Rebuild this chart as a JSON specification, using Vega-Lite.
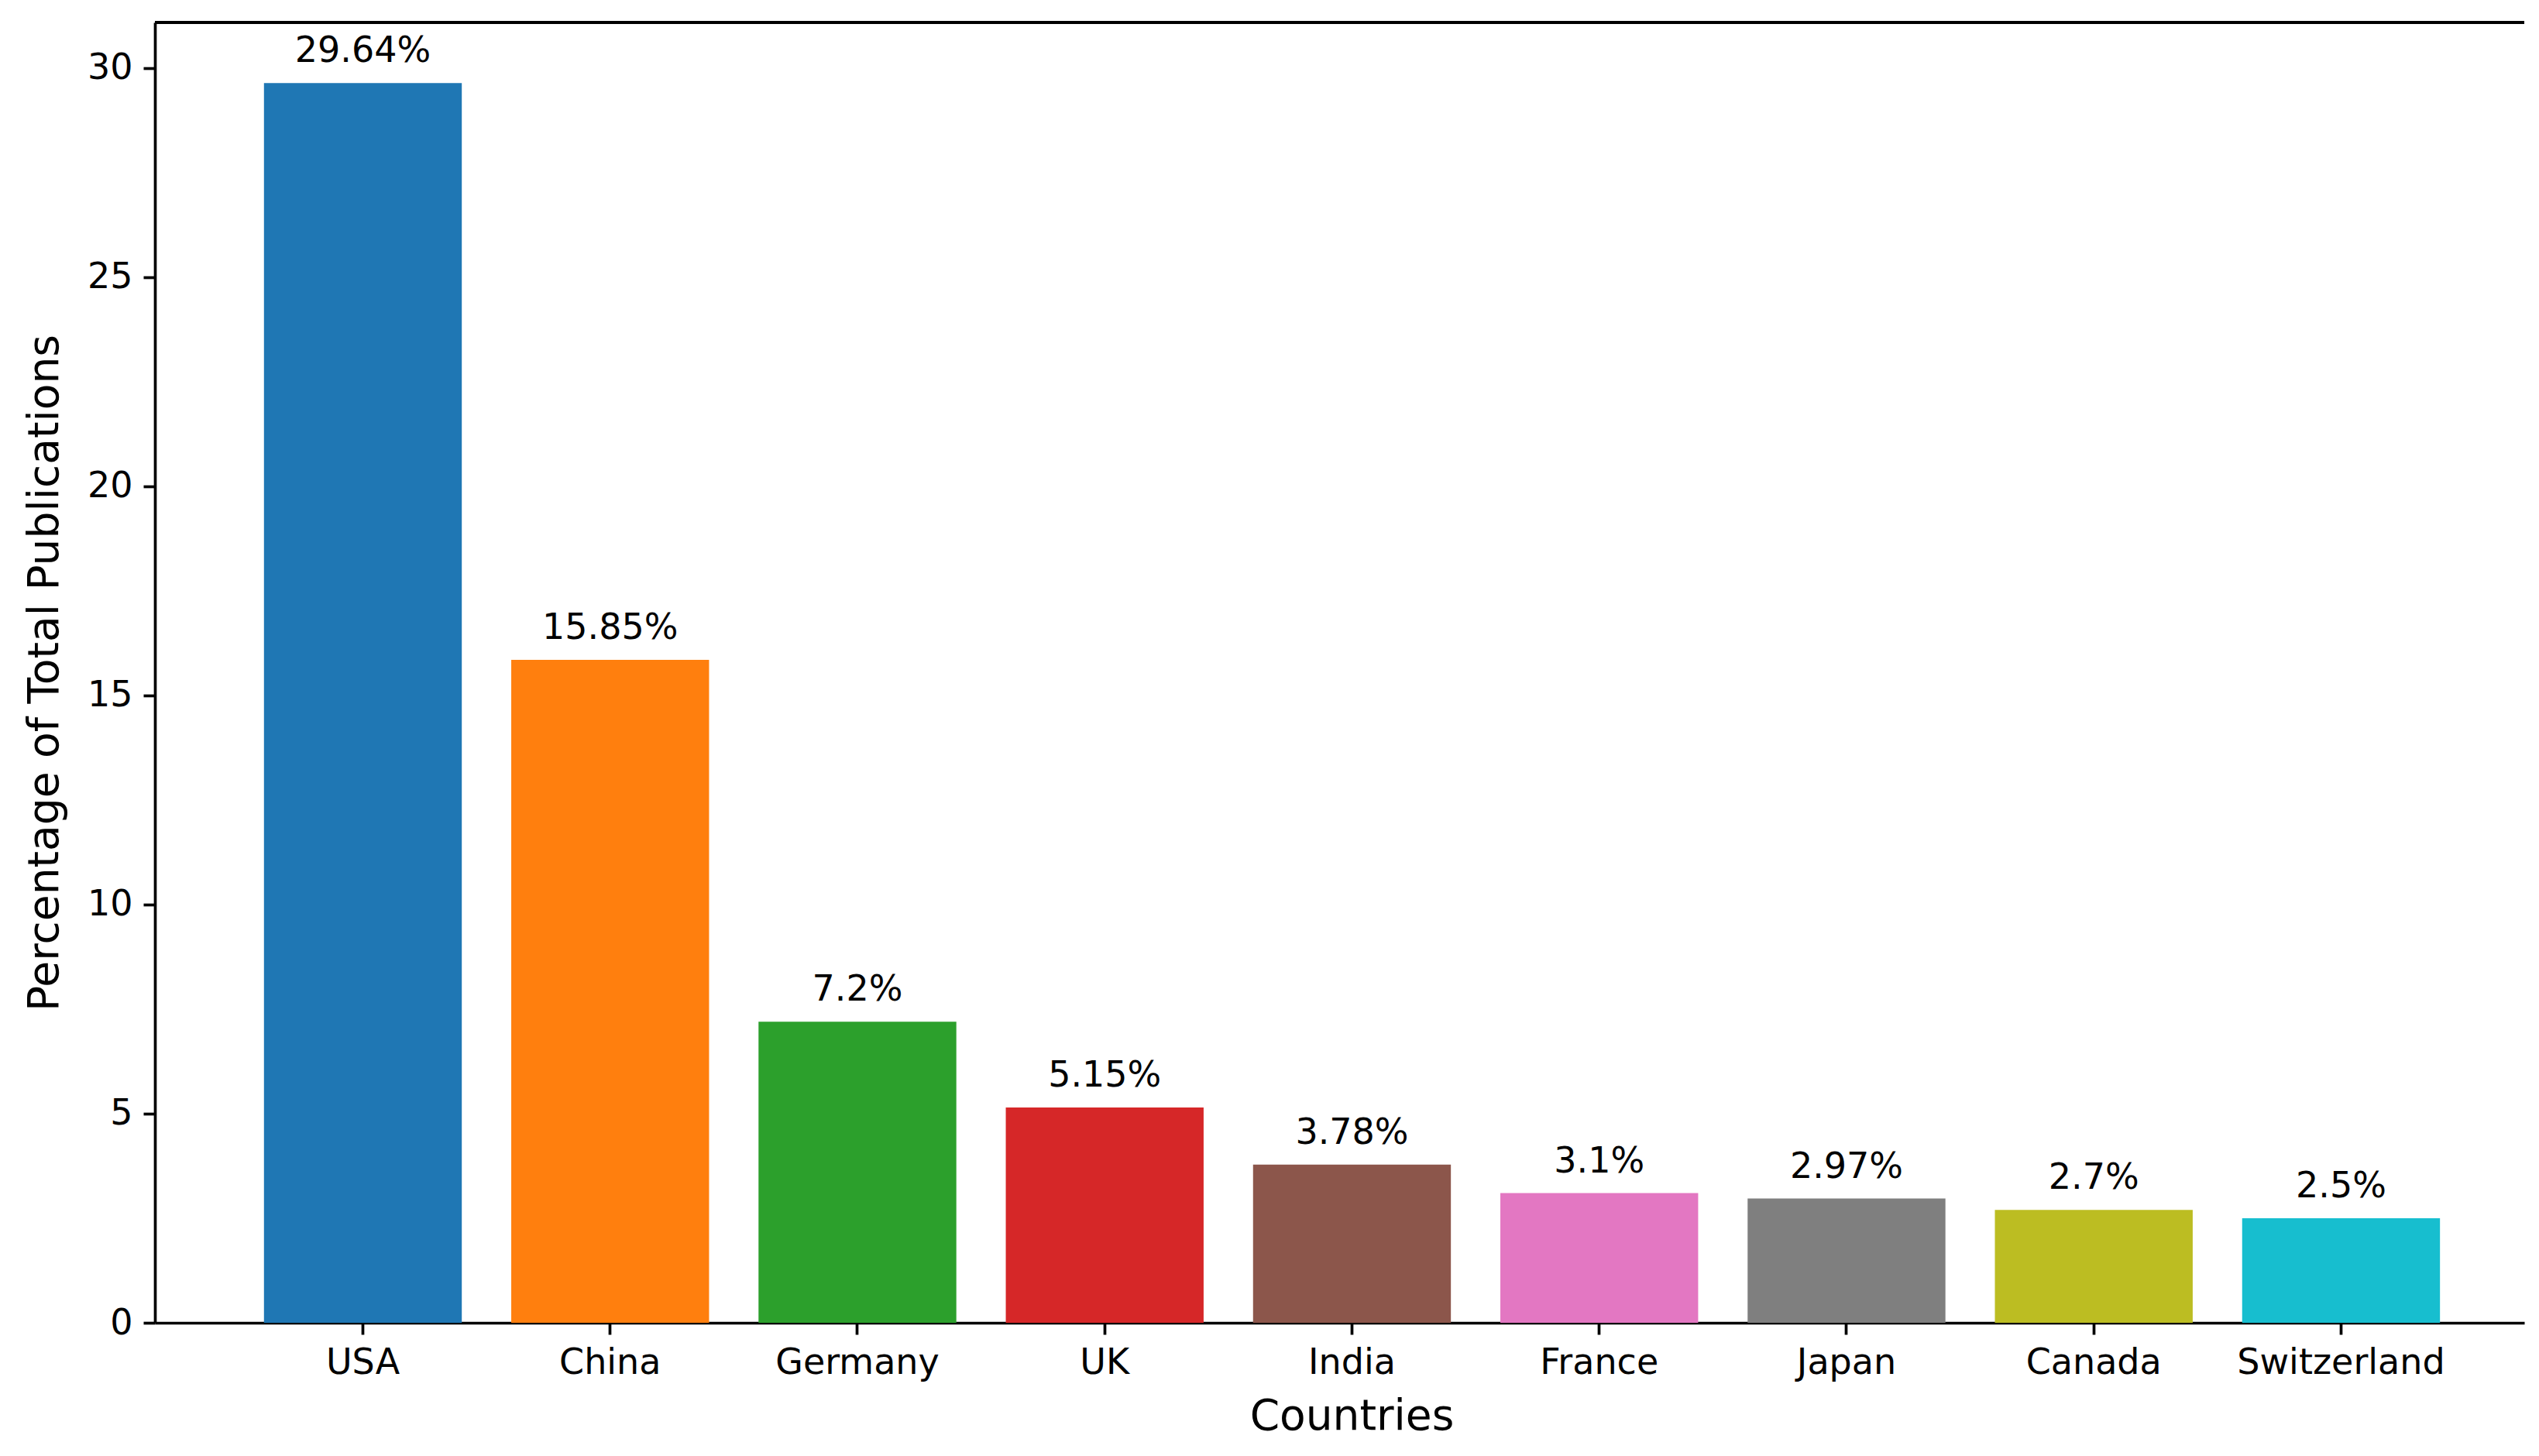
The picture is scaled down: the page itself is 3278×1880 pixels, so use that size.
{
  "$schema": "https://vega.github.io/schema/vega-lite/v6.json",
  "width": 3059,
  "height": 1679,
  "autosize": {"type": "none"},
  "padding": {"left": 200, "top": 29, "right": 19, "bottom": 172},
  "background": "white",
  "config": {
    "font": "DejaVu Sans",
    "view": {"stroke": null},
    "axis": {
      "grid": false,
      "domainColor": "black",
      "domainWidth": 3.7,
      "tickColor": "black",
      "tickWidth": 3.7,
      "tickSize": 15,
      "labelPadding": 14,
      "labelLimit": 0,
      "labelFont": "DejaVu Sans",
      "labelFontSize": 46,
      "labelColor": "black",
      "titleFont": "DejaVu Sans",
      "titleFontSize": 55,
      "titleFontWeight": "normal",
      "titleColor": "black"
    }
  },
  "data": {
    "values": [
      {"country": "USA", "pct": 29.64, "label": "29.64%"},
      {"country": "China", "pct": 15.85, "label": "15.85%"},
      {"country": "Germany", "pct": 7.2, "label": "7.2%"},
      {"country": "UK", "pct": 5.15, "label": "5.15%"},
      {"country": "India", "pct": 3.78, "label": "3.78%"},
      {"country": "France", "pct": 3.1, "label": "3.1%"},
      {"country": "Japan", "pct": 2.97, "label": "2.97%"},
      {"country": "Canada", "pct": 2.7, "label": "2.7%"},
      {"country": "Switzerland", "pct": 2.5, "label": "2.5%"}
    ]
  },
  "layer": [
    {
      "mark": {"type": "bar"},
      "encoding": {
        "x": {
          "field": "country",
          "type": "nominal",
          "sort": null,
          "scale": {"paddingInner": 0.2, "paddingOuter": 0.391, "align": 0.564},
          "axis": {"title": "Countries", "labelAngle": 0, "titlePadding": 20, "titleX": 1545, "titleAlign": "center"}
        },
        "y": {
          "field": "pct",
          "type": "quantitative",
          "scale": {"domain": [0, 31.09], "nice": false, "zero": true},
          "axis": {"title": "Percentage of Total Publications", "values": [0, 5, 10, 15, 20, 25, 30], "titlePadding": 26}
        },
        "color": {
          "field": "country",
          "type": "nominal",
          "legend": null,
          "scale": {
            "domain": ["USA", "China", "Germany", "UK", "India", "France", "Japan", "Canada", "Switzerland"],
            "range": ["#1f77b4", "#ff7f0e", "#2ca02c", "#d62728", "#8c564b", "#e377c2", "#7f7f7f", "#bcbd22", "#17becf"]
          }
        }
      }
    },
    {
      "mark": {"type": "text", "baseline": "alphabetic", "dy": -27, "fontSize": 46, "font": "DejaVu Sans", "color": "black"},
      "encoding": {
        "x": {"field": "country", "type": "nominal", "sort": null},
        "y": {"field": "pct", "type": "quantitative"},
        "text": {"field": "label"}
      }
    },
    {
      "mark": {"type": "rule", "color": "black", "strokeWidth": 3.7},
      "encoding": {"y": {"datum": 31.09}}
    }
  ]
}
